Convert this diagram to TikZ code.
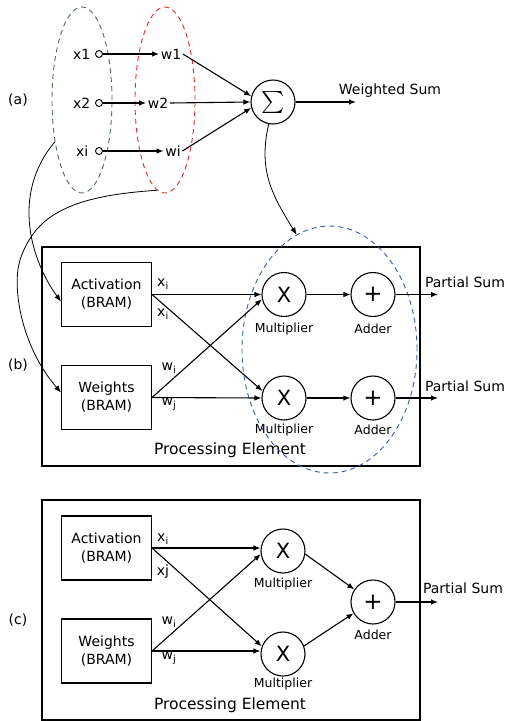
\documentclass[tikz,border=0pt]{standalone}
\usepackage{fontspec}
\setmainfont{DejaVu Sans}
\usepackage{graphicx}
\usetikzlibrary{arrows.meta,shapes.geometric}
\definecolor{grpgreen}{HTML}{4D6E4D}
\definecolor{grpred}{HTML}{E8282C}
\definecolor{grpblue}{HTML}{3B5BA5}
\tikzset{
  lbl/.style={font=\fontsize{14}{16}\selectfont, inner sep=1.5pt},
  smalllbl/.style={font=\fontsize{12.5}{14}\selectfont, inner sep=0pt},
  pelbl/.style={font=\fontsize{15.5}{17}\selectfont, inner sep=0pt},
  bram/.style={draw, line width=1.1pt, minimum width=90pt, minimum height=64pt, align=center, font=\fontsize{14}{18}\selectfont},
  op/.style={draw, circle, line width=1.1pt, minimum size=44pt, inner sep=0pt},
  port/.style={draw, circle, line width=0.9pt, minimum size=7pt, inner sep=0pt},
  arr/.style={-{Latex[length=7pt,width=5.5pt]}, line width=1.1pt},
  pebox/.style={draw, line width=1.2pt, minimum width=378pt, minimum height=219pt},
  grp/.style={draw, ellipse, inner sep=0pt, line width=0.9pt, dash pattern=on 5pt off 4pt},
  xsym/.style={font=\fontsize{21}{21}\selectfont},
  psym/.style={font=\fontsize{23}{23}\selectfont},
}
\begin{document}
\begin{tikzpicture}[x=1pt,y=-1pt]
\useasboundingbox (0,0) rectangle (505,721);

% ---------------- (a) ----------------
\node[lbl] (la) at (18,100) {(a)};
\node[grp, grpgreen, minimum width=60pt, minimum height=186pt] (gE) at (82,100) {};
\node[grp, grpred, minimum width=60pt, minimum height=186pt] (rE) at (165,100) {};

\node[port] (p1) at (99,54) {};
\node[port] (p2) at (99,103) {};
\node[port] (p3) at (99,151) {};
\node[lbl, anchor=east] (x1) at ([xshift=-3pt]p1.west) {x1};
\node[lbl, anchor=east] (x2) at ([xshift=-3pt]p2.west) {x2};
\node[lbl, anchor=east] (x3) at ([xshift=-5pt]p3.west) {xi};
\node[lbl] (w1) at (171,54) {w1};
\node[lbl] (w2) at (158,103) {w2};
\node[lbl] (w3) at (173,151) {wi};

\node[op] (sig) at (273,102) {\scalebox{2.2}{$\sum$}};
\coordinate (wsum) at (356,102);
\node[lbl] (wsl) at (390,91) {Weighted Sum};

\draw[arr] (p1) -- (w1);
\draw[arr] (p2) -- (w2);
\draw[arr] (p3) -- (w3);
\draw[arr] (w1.east) -- (sig.165);
\draw[arr] (w2.east) -- (sig.west);
\draw[arr] (w3.east) -- (sig.195);
\draw[arr] (sig.east) -- (wsum);

% ---------------- (b) ----------------
\node[lbl] (lb) at (18,365) {(b)};
\node[pebox] (peb) at (231,356.5) {};
\node[pelbl] (peblbl) at (230,450) {Processing Element};
\node[grp, grpblue, minimum width=175pt, minimum height=247pt] (bE) at (329.5,349.5) {};

\node[bram] (act1) at (106.5,294.5) {Activation\\(BRAM)};
\node[bram] (wt1) at (106.5,397.5) {Weights\\(BRAM)};
\node[op, xsym] (m1) at (284,294.5) {X};
\node[op, xsym] (m2) at (284,398) {X};
\node[op, psym] (a1) at (373,294.5) {+};
\node[op, psym] (a2) at (373,398) {+};
\node[smalllbl] (m1l) at (284,329) {Multiplier};
\node[smalllbl] (m2l) at (284,430) {Multiplier};
\node[smalllbl] (a1l) at (373,329) {Adder};
\node[smalllbl] (a2l) at (373,430) {Adder};
\coordinate (ps1) at (438,294.5);
\coordinate (ps2) at (438,398);
\node[lbl] (ps1l) at (465,282) {Partial Sum};
\node[lbl] (ps2l) at (465,386) {Partial Sum};
\node[lbl] (xb1) at (163,284) {x\textsubscript{i}};
\node[lbl] (xb2) at (163,314) {x\textsubscript{i}};
\node[lbl] (wb1) at (169,368) {w\textsubscript{i}};
\node[lbl] (wb2) at (169,404) {w\textsubscript{j}};

\draw[arr] (act1.east) -- (m1.west);
\draw[arr] (act1.east) -- (m2.162);
\draw[arr] (wt1.east) -- (m1.192);
\draw[arr] (wt1.east) -- (m2.west);
\draw[arr] (m1) -- (a1);
\draw[arr] (m2) -- (a2);
\draw[arr] (a1.east) -- (ps1);
\draw[arr] (a2.east) -- (ps2);

% connectors between (a) and (b)
\draw[arr, line width=0.8pt] (gE.237) .. controls (10,195) and (32,262) .. ([yshift=-7pt]act1.west);
\draw[arr, line width=0.8pt] (rE.265) .. controls (70,196) and (35,215) .. (20,260)
   .. controls (12,285) and (20,345) .. ([yshift=5pt]wt1.west);
\draw[arr, line width=0.8pt] (sig.259) .. controls (258,170) and (272,195) .. (bE.106);

% ---------------- (c) ----------------
\node[lbl] (lc) at (18,620) {(c)};
\node[pebox, minimum height=220pt] (pec) at (231,610) {};
\node[pelbl] (peclbl) at (230,705) {Processing Element};

\node[bram] (act2) at (106.5,548) {Activation\\(BRAM)};
\node[bram] (wt2) at (106.5,651) {Weights\\(BRAM)};
\node[op, xsym] (m3) at (283,551) {X};
\node[op, xsym] (m4) at (283,654) {X};
\node[op, psym] (a3) at (373,602) {+};
\node[smalllbl] (m3l) at (283,584) {Multiplier};
\node[smalllbl] (m4l) at (283,684) {Multiplier};
\node[smalllbl] (a3l) at (373,635) {Adder};
\coordinate (ps3) at (438,602);
\node[lbl] (ps3l) at (463,588) {Partial Sum};
\node[lbl] (xc1) at (163,539) {x\textsubscript{i}};
\node[lbl] (xc2) at (163,572) {xj};
\node[lbl] (wc1) at (169,622) {w\textsubscript{i}};
\node[lbl] (wc2) at (169,658) {w\textsubscript{j}};

\draw[arr] (act2.east) -- (m3.west |- act2.east);
\draw[arr] (act2.east) -- (m4.160);
\draw[arr] (wt2.east) -- (m3.188);
\draw[arr] (wt2.east) -- (m4.west |- wt2.east);
\draw[arr] (m3.-8) -- (a3.146);
\draw[arr] (m4.21) -- (a3.210);
\draw[arr] (a3.east) -- (ps3);
\end{tikzpicture}
\end{document}
